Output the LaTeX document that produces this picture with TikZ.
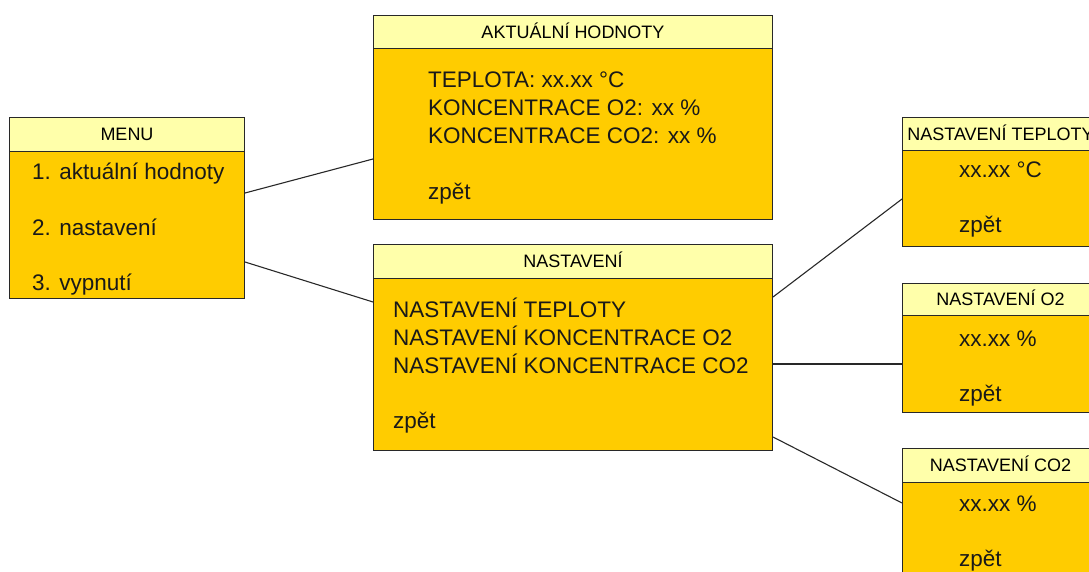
\documentclass[tikz,border=0pt]{standalone}
\usepackage{fontspec}
\setmainfont{Liberation Sans}
\usetikzlibrary{calc}
\definecolor{headfill}{RGB}{255,255,170}
\definecolor{bodyfill}{RGB}{255,204,0}
\definecolor{edgecol}{RGB}{40,40,40}
\tikzset{
  headbox/.style={draw=edgecol, line width=1pt, fill=headfill, anchor=north west, inner sep=0pt,
    font=\fontsize{18}{20}\selectfont, text height=12.9pt, text depth=0pt, minimum height=#1},
  bodybox/.style={draw=edgecol, line width=1pt, fill=bodyfill, anchor=north west, inner sep=0pt, minimum height=#1},
  btxt/.style={anchor=base west, inner sep=0pt, font=\fontsize{22.5}{27}\selectfont, text=black!90},
  conn/.style={draw=edgecol, line width=1.1pt}
}
\begin{document}
\begin{tikzpicture}[x=1pt,y=-1pt]
\clip (0,0) rectangle (1089,572);
\fill[white] (0,0) rectangle (1089,572);
% MENU
\node[bodybox=147pt, minimum width=235pt] (menuB) at (9,151) {};
\node[headbox=34pt, minimum width=235pt] (menuH) at (9,117) {MENU};
\node[btxt] (m1) at (32,180) {1. aktuální hodnoty};
\node[btxt] (m2) at (32,235) {2. nastavení};
\node[btxt] (m3) at (32,290) {3. vypnutí};
% AKTUALNI HODNOTY
\node[bodybox=171pt, minimum width=399pt] (aktB) at (373,48) {};
\node[headbox=33pt, minimum width=399pt] (aktH) at (373,15) {AKTUÁLNÍ HODNOTY};
\node[btxt] (a1) at (428,88) {TEPLOTA: xx.xx °C};
\node[btxt] (a2) at (428,116) {KONCENTRACE O2: xx \%};
\node[btxt] (a3) at (428,144) {KONCENTRACE CO2: xx \%};
\node[btxt] (a4) at (428,200) {zpět};
% NASTAVENI
\node[bodybox=172pt, minimum width=399pt] (nastB) at (373,278) {};
\node[headbox=34pt, minimum width=399pt] (nastH) at (373,244) {NASTAVENÍ};
\node[btxt] (n1) at (393,317) {NASTAVENÍ TEPLOTY};
\node[btxt] (n2) at (393,345) {NASTAVENÍ KONCENTRACE O2};
\node[btxt] (n3) at (393,373) {NASTAVENÍ KONCENTRACE CO2};
\node[btxt] (n4) at (393,428) {zpět};
% NASTAVENI TEPLOTY
\node[bodybox=96pt, minimum width=196pt] (teplB) at (902,150) {};
\node[headbox=33pt, minimum width=196pt] (teplH) at (902,117) {NASTAVENÍ TEPLOTY};
\node[btxt] (t1) at (959,178) {xx.xx °C};
\node[btxt] (t2) at (959,233) {zpět};
% NASTAVENI O2
\node[bodybox=97pt, minimum width=196pt] (o2B) at (902,315) {};
\node[headbox=32pt, minimum width=196pt] (o2H) at (902,283) {NASTAVENÍ O2};
\node[btxt] (o1) at (959,346) {xx.xx \%};
\node[btxt] (o2t) at (959,401) {zpět};
% NASTAVENI CO2
\node[bodybox=98pt, minimum width=196pt] (co2B) at (902,482) {};
\node[headbox=34pt, minimum width=196pt] (co2H) at (902,448) {NASTAVENÍ CO2};
\node[btxt] (c1) at (959,511) {xx.xx \%};
\node[btxt] (c2) at (959,566) {zpět};
% connectors
\draw[conn] ($(menuB.north east)+(0,42)$) -- ($(aktB.north west)+(0,111)$);
\draw[conn] ($(menuB.north east)+(0,111)$) -- ($(nastB.north west)+(0,24)$);
\draw[conn] ($(nastB.north east)+(0,19)$) -- ($(teplB.north west)+(0,49)$);
\draw[conn] ($(nastB.north east)+(0,86)$) -- ($(o2B.north west)+(0,49)$);
\draw[conn] ($(nastB.north east)+(0,159)$) -- ($(co2B.north west)+(0,21)$);
\end{tikzpicture}
\end{document}
